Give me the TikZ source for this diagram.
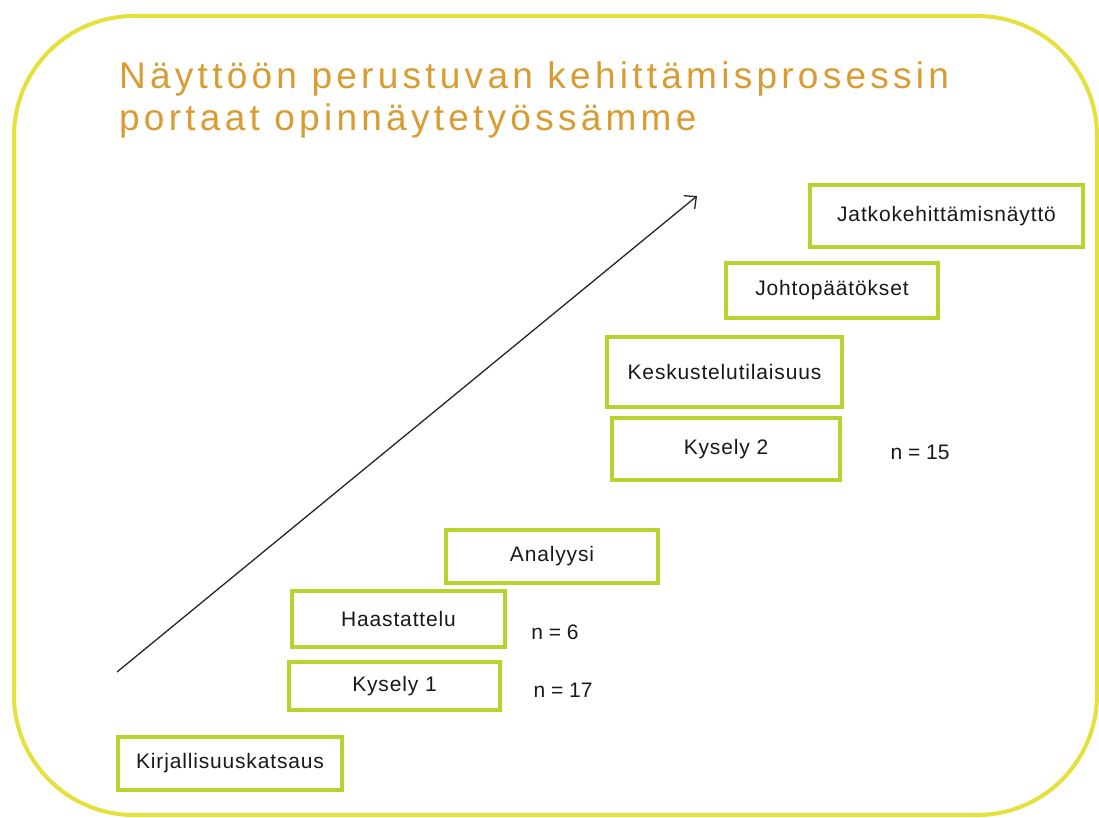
\documentclass[tikz,border=0pt]{standalone}
\usepackage{fontspec}
\setmainfont{Liberation Sans}
\newfontfamily\titlefont[LetterSpace=11.5]{Liberation Sans}
\newfontfamily\boxfont[LetterSpace=4]{Liberation Sans}
\usetikzlibrary{arrows.meta}
\definecolor{framey}{RGB}{228,224,60}
\definecolor{boxg}{RGB}{184,210,46}
\definecolor{titleo}{RGB}{216,156,50}
\definecolor{txt}{RGB}{25,25,25}
\tikzset{
  stepbox/.style={draw=boxg, line width=4pt, inner sep=0pt, text=txt,
    font=\boxfont\fontsize{21}{25}\selectfont},
  nlabel/.style={inner sep=0pt, text=txt, font=\fontsize{21}{25}\selectfont},
  titletext/.style={inner sep=0pt, text=titleo, anchor=base west,
    font=\titlefont\fontsize{37}{42}\selectfont},
  frame/.style={draw=framey, line width=4pt, rounded corners=120pt},
  growth/.style={draw=black!85, line width=1.3pt, -{Straight Barb[length=9pt,width=17pt,line width=1.3pt]}}
}
\begin{document}
\begin{tikzpicture}[x=1pt,y=-1pt]
\useasboundingbox (0,0) rectangle (1099,818);
\fill[white] (0,0) rectangle (1099,818);
\draw[frame] (14,16) rectangle (1097,815);

\node[titletext] (t1) at (119,89) {Näyttöön perustuvan kehittämisprosessin};
\node[titletext] (t2) at (119,131) {portaat opinnäytetyössämme};

\coordinate (a0) at (117,672);
\coordinate (a1) at (697,196);
\draw[growth] (a0) -- (a1);

\node[stepbox, minimum width=224pt, minimum height=53pt] (kirj) at (230,763.5) {Kirjallisuuskatsaus};
\node[stepbox, minimum width=211pt, minimum height=48pt] (kys1) at (394.5,686) {Kysely 1};
\node[stepbox, minimum width=213pt, minimum height=56pt] (haas) at (398.5,619) {Haastattelu};
\node[stepbox, minimum width=212pt, minimum height=53pt] (anal) at (552,556.5) {Analyysi};
\node[stepbox, minimum width=228pt, minimum height=62pt] (kys2) at (726,449) {Kysely 2};
\node[stepbox, minimum width=235pt, minimum height=70pt] (kesk) at (724.5,372) {Keskustelutilaisuus};
\node[stepbox, minimum width=212pt, minimum height=55pt] (joht) at (832,290.5) {Johtopäätökset};
\node[stepbox, minimum width=273pt, minimum height=62pt] (jatk) at (946.5,216) {Jatkokehittämisnäyttö};

\node[nlabel] (n6) at (555,632) {n = 6};
\node[nlabel] (n17) at (563,690) {n = 17};
\node[nlabel] (n15) at (920,452) {n = 15};
\end{tikzpicture}
\end{document}
